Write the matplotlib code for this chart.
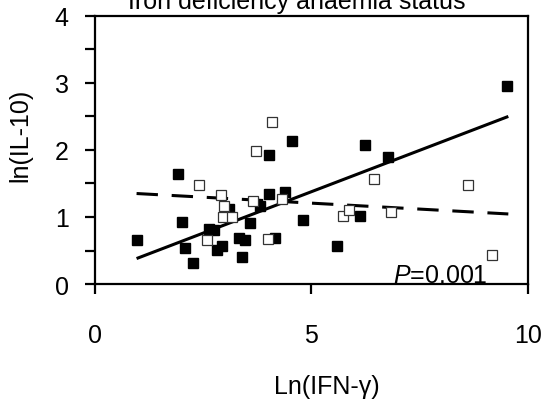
import numpy as np
import matplotlib
matplotlib.use("Agg")
import matplotlib.pyplot as plt
from matplotlib import font_manager

names = {f.name for f in font_manager.fontManager.ttflist}
narrow = 'Liberation Sans Narrow' if 'Liberation Sans Narrow' in names else 'Liberation Sans'
plt.rcParams['font.family'] = [narrow, 'DejaVu Sans']
plt.rcParams['mathtext.fontset'] = 'custom'
plt.rcParams['mathtext.it'] = narrow + ':italic'
plt.rcParams['mathtext.rm'] = narrow

fs = 18

# data
ifn_filled = [0.96, 1.91, 2.02, 2.09, 2.26, 2.63, 2.75, 2.81, 2.94, 3.09, 3.33, 3.39,
              3.46, 3.57, 3.81, 4.01, 4.03, 4.16, 4.38, 4.54, 4.80, 5.60, 6.12, 6.24,
              6.76, 9.53]
il10_filled = [0.65, 1.64, 0.93, 0.54, 0.32, 0.82, 0.80, 0.51, 0.57, 1.12, 0.69, 0.41,
               0.65, 0.91, 1.16, 1.34, 1.92, 0.69, 1.38, 2.14, 0.95, 0.57, 1.01, 2.08,
               1.90, 2.96]

ifn_open = [2.41, 2.59, 2.92, 2.96, 2.99, 3.16, 3.64, 3.72, 3.99, 4.10, 4.33, 5.73,
            5.86, 6.44, 6.84, 8.62, 9.18]
il10_open = [1.48, 0.66, 1.33, 1.00, 1.17, 1.00, 1.24, 1.99, 0.67, 2.41, 1.27, 1.02,
             1.11, 1.57, 1.08, 1.48, 0.43]

# regression lines (end points)
fit_x = [0.96, 9.55]
fit_filled = [0.38, 2.50]
fit_open = [1.35, 1.045]

fig = plt.figure(figsize=(5.43, 4.02), dpi=100)
ax = fig.add_axes([0.175, 0.291, 0.797, 0.667])

ax.plot(fit_x, fit_filled, color='black', lw=2.2, solid_capstyle='butt', zorder=2)
ax.plot(fit_x, fit_open, color='black', lw=2.2, dashes=(7, 4.5), zorder=2)
ax.plot(ifn_filled, il10_filled, 's', ms=6.5, mfc='black', mec='black', ls='none', zorder=3)
ax.plot(ifn_open, il10_open, 's', ms=7, mfc='white', mec='#333333', mew=0.9, ls='none', zorder=3)

ax.set_xlim(0, 10)
ax.set_ylim(0, 4)
ax.set_xticks([0, 5, 10])
ax.set_yticks([0, 1, 2, 3, 4])
ax.set_yticks([0.5, 1.5, 2.5, 3.5], minor=True)

for s in ax.spines.values():
    s.set_linewidth(1.6)
ax.tick_params(axis='both', which='both', direction='out', length=7, width=1.6,
               labelsize=fs)
ax.tick_params(axis='x', pad=21)
ax.tick_params(axis='y', pad=12)

ax.text(6.88, 0.03, '$P$=0.001', fontsize=fs, va='baseline', ha='left')

fig.text(0.547, 0.978, 'Iron deficiency anaemia status', fontsize=fs,
         ha='center', va='baseline')
fig.text(0.037, 0.664, 'ln(IL-10)', fontsize=fs, rotation=90, ha='center', va='center')
fig.text(0.602, 0.037, 'Ln(IFN-\u03b3)', fontsize=fs, ha='center', va='center')

fig.savefig('out.png', dpi=100)
